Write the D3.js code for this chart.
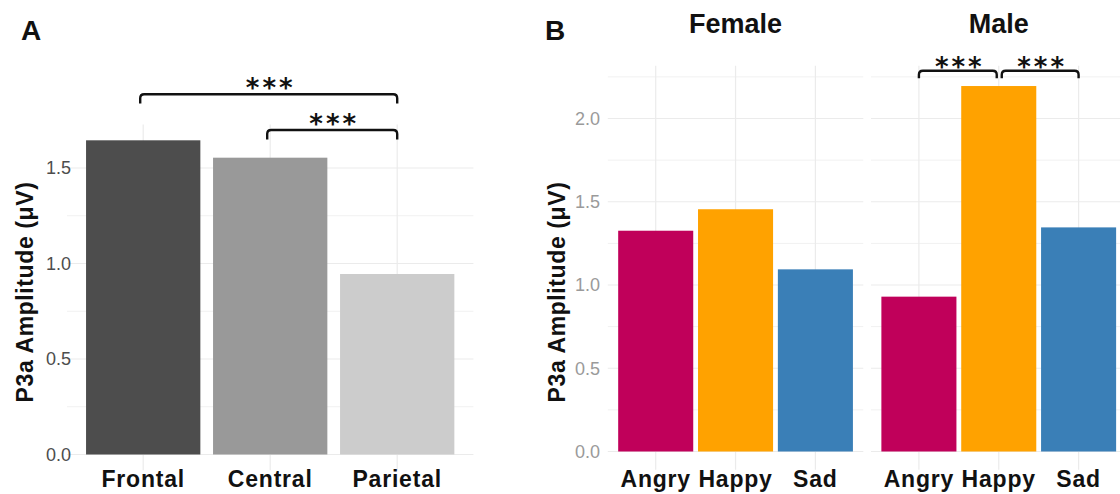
<!DOCTYPE html>
<html>
<head>
<meta charset="utf-8">
<script src="https://cdn.jsdelivr.net/npm/d3@7"></script>
<style>
  html, body { margin: 0; padding: 0; background: #ffffff; }
  svg { display: block; }
  text { font-family: "Liberation Sans", Arial, Helvetica, sans-serif; }
</style>
</head>
<body>
<svg id="fig" width="1120" height="494"></svg>
<script>
// ---- Panel A: P3a amplitude by electrode region ----
const regions = ["Frontal", "Central", "Parietal"];
const regionAmplitude = [1.645, 1.554, 0.945];
const regionColors = ["#4d4d4d", "#999999", "#cccccc"];
const ticksA = [0, 0.5, 1.0, 1.5];
const minorA = [0.25, 0.75, 1.25];
// significance brackets (y and tip in µV)
const sigA = [
  { from: "Frontal", to: "Parietal", y: 1.886, tip: 0.048, label: "***" },
  { from: "Central", to: "Parietal", y: 1.699, tip: 0.050, label: "***" }
];

// ---- Panel B: P3a amplitude by emotion, split by sex ----
const sexes = ["Female", "Male"];
const emotions = ["Angry", "Happy", "Sad"];
const femaleAmplitude = [1.326, 1.455, 1.094];
const maleAmplitude = [0.930, 2.195, 1.346];
const emotionColors = ["#c0005a", "#ffa200", "#3a7fb7"];
const ticksB = [0, 0.5, 1.0, 1.5, 2.0];
const minorB = [0.25, 0.75, 1.25, 1.75, 2.25];
const sigB = [
  { sex: "Male", from: "Angry", to: "Happy", y: 2.287, tip: 0.045, label: "***", nudgeFrom: 0, nudgeTo: -2 },
  { sex: "Male", from: "Happy", to: "Sad", y: 2.287, tip: 0.045, label: "***", nudgeFrom: 3, nudgeTo: 0 }
];

const yTitle = "P3a Amplitude (\u03BCV)";
const svg = d3.select("#fig");
const gridColor = "#ebebeb";

// rounded-corner bracket path between two x positions
function bracketPath(x1, x2, yh, yl) {
  const r = 4;
  return `M${x1},${yl} L${x1},${yh + r} Q${x1},${yh} ${x1 + r},${yh} ` +
         `L${x2 - r},${yh} Q${x2},${yh} ${x2},${yh + r} L${x2},${yl}`;
}

// expanded y domain (5% on each side of [0, max])
function expandedDomain(values) {
  const m = d3.max(values);
  return [-0.05 * m, 1.05 * m];
}

function styleCategoryLabels(sel) {
  sel.attr("dy", 0).attr("fill", "#111")
    .style("font-size", "23px").style("font-weight", "bold").style("letter-spacing", "0.8px")
    .style("font-family", "'Liberation Sans', Arial, sans-serif");
}

function drawStars(x, yBase, label) {
  svg.append("text").attr("x", x + 2).attr("y", yBase)
    .attr("text-anchor", "middle").attr("fill", "#111")
    .style("font-family", "'DejaVu Sans', sans-serif").style("font-size", "26px")
    .style("font-weight", "bold").style("letter-spacing", "3px")
    .text(label);
}

// ================= Panel A =================
{
  const left = 67, right = 473.4;
  const domA = expandedDomain(regionAmplitude);
  const pxPerUnit = 191;
  const y0 = 454.5;
  const y = d3.scaleLinear().domain(domA)
    .range([y0 - domA[0] * pxPerUnit, y0 - domA[1] * pxPerUnit]);
  const x = d3.scaleBand().domain(regions).range([left, right])
    .paddingInner(0.1).paddingOuter(0.15);
  const cx = d => x(d) + x.bandwidth() / 2;
  const [yb, yt] = y.range();

  const g = svg.append("g");
  // grid
  g.selectAll("line.minor").data(minorA).join("line")
    .attr("x1", left).attr("x2", right)
    .attr("y1", d => y(d)).attr("y2", d => y(d))
    .attr("stroke", "#f1f1f1").attr("stroke-width", 1);
  g.selectAll("line.major").data(ticksA).join("line")
    .attr("x1", left).attr("x2", right)
    .attr("y1", d => y(d)).attr("y2", d => y(d))
    .attr("stroke", gridColor).attr("stroke-width", 1.2);
  g.selectAll("line.vgrid").data(regions).join("line")
    .attr("x1", d => cx(d)).attr("x2", d => cx(d))
    .attr("y1", yt).attr("y2", yb)
    .attr("stroke", gridColor).attr("stroke-width", 1.2);

  // bars
  g.selectAll("rect").data(regions).join("rect")
    .attr("x", d => x(d)).attr("width", x.bandwidth())
    .attr("y", (d, i) => y(regionAmplitude[i]))
    .attr("height", (d, i) => y(0) - y(regionAmplitude[i]))
    .attr("fill", (d, i) => regionColors[i]);

  // y axis labels
  const yAxis = d3.axisLeft(y).tickValues(ticksA).tickFormat(d3.format(".1f")).tickSize(0).tickPadding(0);
  const ya = svg.append("g").attr("transform", "translate(71,0)").call(yAxis);
  ya.select(".domain").remove();
  ya.selectAll("text").attr("fill", "#4d4d4d").style("font-size", "18px")
    .style("font-family", "'Liberation Sans', Arial, sans-serif");

  // x axis labels
  const xAxis = d3.axisBottom(x).tickSize(0).tickPadding(0);
  const xa = svg.append("g").attr("transform", "translate(0,486.5)").call(xAxis);
  xa.select(".domain").remove();
  styleCategoryLabels(xa.selectAll("text"));

  // y title
  svg.append("text")
    .attr("transform", "translate(33,292) rotate(-90)")
    .attr("text-anchor", "middle").attr("fill", "#111")
    .style("font-size", "23px").style("font-weight", "bold").style("letter-spacing", "0.6px")
    .text(yTitle);

  // significance brackets
  sigA.forEach(s => {
    const x1 = cx(s.from) - 3, x2 = cx(s.to);
    svg.append("path").attr("d", bracketPath(x1, x2, y(s.y), y(s.y - s.tip)))
      .attr("fill", "none").attr("stroke", "#111").attr("stroke-width", 2.4);
    drawStars((x1 + x2) / 2, y(s.y) + 3, s.label);
  });

  svg.append("text").attr("x", 21).attr("y", 39.5).attr("fill", "#111")
    .style("font-size", "28px").style("font-weight", "bold").text("A");
}

// ================= Panel B =================
{
  const panels = { Female: [607.8, 863.3], Male: [871, 1126.5] };
  const amps = { Female: femaleAmplitude, Male: maleAmplitude };
  const domB = expandedDomain(femaleAmplitude.concat(maleAmplitude));
  const pxPerUnit = 166.5;
  const y0 = 451.5;
  const y = d3.scaleLinear().domain(domB)
    .range([y0 - domB[0] * pxPerUnit, y0 - domB[1] * pxPerUnit]);
  const [yb, yt] = y.range();
  const xs = {};

  sexes.forEach(sex => {
    const [l, r] = panels[sex];
    const x = d3.scaleBand().domain(emotions).range([l, r])
      .paddingInner(0.06).paddingOuter(0.13);
    xs[sex] = x;
    const cx = d => x(d) + x.bandwidth() / 2;
    const g = svg.append("g");
    g.selectAll("line.minor").data(minorB).join("line")
      .attr("x1", l).attr("x2", r)
      .attr("y1", d => y(d)).attr("y2", d => y(d))
      .attr("stroke", "#f1f1f1").attr("stroke-width", 1);
    g.selectAll("line.major").data(ticksB).join("line")
      .attr("x1", l).attr("x2", r)
      .attr("y1", d => y(d)).attr("y2", d => y(d))
      .attr("stroke", gridColor).attr("stroke-width", 1.2);
    g.selectAll("line.vgrid").data(emotions).join("line")
      .attr("x1", d => cx(d)).attr("x2", d => cx(d))
      .attr("y1", yt - 2).attr("y2", yb)
      .attr("stroke", gridColor).attr("stroke-width", 1.2);

    g.selectAll("rect").data(emotions).join("rect")
      .attr("x", d => x(d)).attr("width", x.bandwidth())
      .attr("y", (d, i) => y(amps[sex][i]))
      .attr("height", (d, i) => y(0) - y(amps[sex][i]))
      .attr("fill", (d, i) => emotionColors[i]);

    const xAxis = d3.axisBottom(x).tickSize(0).tickPadding(0);
    const xa = svg.append("g").attr("transform", "translate(0,486.5)").call(xAxis);
    xa.select(".domain").remove();
    styleCategoryLabels(xa.selectAll("text"));

    // facet strip title
    svg.append("text").attr("x", (l + r) / 2).attr("y", 33)
      .attr("text-anchor", "middle").attr("fill", "#111")
      .style("font-size", "27px").style("font-weight", "bold")
      .text(sex);
  });

  const yAxis = d3.axisLeft(y).tickValues(ticksB).tickFormat(d3.format(".1f")).tickSize(0).tickPadding(0);
  const ya = svg.append("g").attr("transform", "translate(600,0)").call(yAxis);
  ya.select(".domain").remove();
  ya.selectAll("text").attr("fill", "#9a9a9a").style("font-size", "18px")
    .style("font-family", "'Liberation Sans', Arial, sans-serif");

  svg.append("text")
    .attr("transform", "translate(565,292) rotate(-90)")
    .attr("text-anchor", "middle").attr("fill", "#111")
    .style("font-size", "23px").style("font-weight", "bold").style("letter-spacing", "0.6px")
    .text(yTitle);

  sigB.forEach(s => {
    const x = xs[s.sex];
    const cx = d => x(d) + x.bandwidth() / 2;
    const x1 = cx(s.from) + s.nudgeFrom, x2 = cx(s.to) + s.nudgeTo;
    svg.append("path").attr("d", bracketPath(x1, x2, y(s.y), y(s.y - s.tip)))
      .attr("fill", "none").attr("stroke", "#111").attr("stroke-width", 2.4);
    drawStars((x1 + x2) / 2, y(s.y) + 5, s.label);
  });

  svg.append("text").attr("x", 545).attr("y", 39.5).attr("fill", "#111")
    .style("font-size", "28px").style("font-weight", "bold").text("B");
}
</script>
</body>
</html>
